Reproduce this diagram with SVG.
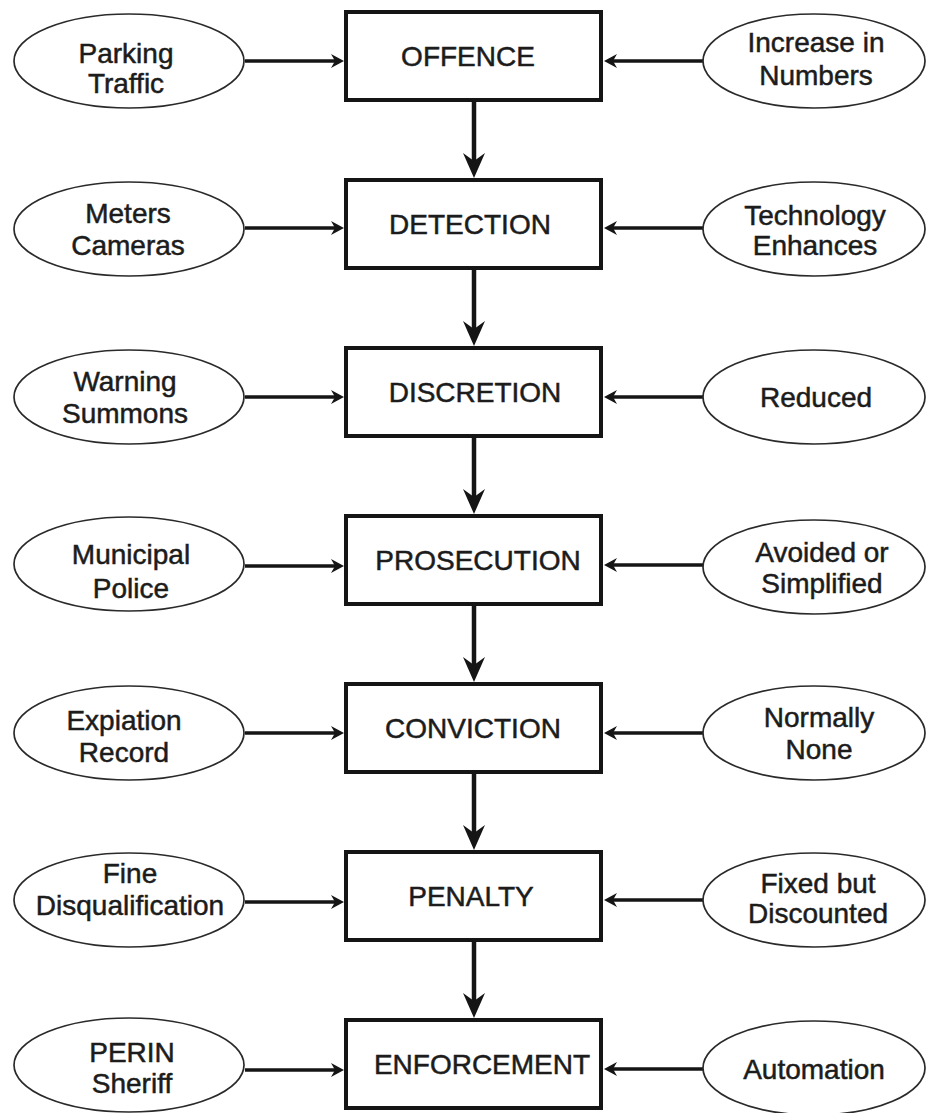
<svg xmlns="http://www.w3.org/2000/svg" width="926" height="1113" viewBox="0 0 926 1113">
<style>
.box{fill:#fff;stroke:#151515;stroke-width:4}
.ell{fill:#fff;stroke:#2a2a2a;stroke-width:1.7}
text{font-family:"Liberation Sans",Arial,sans-serif;font-size:28px;fill:#1c1c1c;stroke:#1c1c1c;stroke-width:0.5;text-anchor:middle}
.v{stroke:#151515;stroke-width:4.5;fill:none}
.h{stroke:#151515;stroke-width:3.5;fill:none}
</style>
<defs>
<marker id="av" markerUnits="userSpaceOnUse" markerWidth="26" markerHeight="26" viewBox="0 0 26 26" refX="8" refY="13" orient="auto">
<path d="M0,2 L25,13 L0,24 L8,13 Z" fill="#151515"/>
</marker>
<marker id="ah" markerUnits="userSpaceOnUse" markerWidth="14" markerHeight="16" viewBox="0 0 14 16" refX="4" refY="8" orient="auto">
<path d="M0,1 L13,8 L0,15 L4,8 Z" fill="#151515"/>
</marker>
</defs>
<rect width="926" height="1113" fill="#fff"/>
<g id="connectors">
<path class="v" d="M474,101 V161" marker-end="url(#av)"/>
<path class="v" d="M474,269 V329" marker-end="url(#av)"/>
<path class="v" d="M474,437 V497" marker-end="url(#av)"/>
<path class="v" d="M474,605 V665" marker-end="url(#av)"/>
<path class="v" d="M474,773 V833" marker-end="url(#av)"/>
<path class="v" d="M474,941 V1001" marker-end="url(#av)"/>
<path class="h" d="M245,61 H335" marker-end="url(#ah)"/>
<path class="h" d="M245,228 H335" marker-end="url(#ah)"/>
<path class="h" d="M245,397 H335" marker-end="url(#ah)"/>
<path class="h" d="M245,566 H335" marker-end="url(#ah)"/>
<path class="h" d="M245,733 H335" marker-end="url(#ah)"/>
<path class="h" d="M245,902 H335" marker-end="url(#ah)"/>
<path class="h" d="M245,1070 H335" marker-end="url(#ah)"/>
<path class="h" d="M703,61 H613" marker-end="url(#ah)"/>
<path class="h" d="M703,228 H613" marker-end="url(#ah)"/>
<path class="h" d="M703,397 H613" marker-end="url(#ah)"/>
<path class="h" d="M703,565 H613" marker-end="url(#ah)"/>
<path class="h" d="M703,733 H613" marker-end="url(#ah)"/>
<path class="h" d="M703,900 H613" marker-end="url(#ah)"/>
<path class="h" d="M703,1069 H613" marker-end="url(#ah)"/>
</g>
<g id="offence"><rect class="box" x="346" y="12" width="255" height="88"/><text x="468" y="66">OFFENCE</text></g>
<g id="detection"><rect class="box" x="346" y="180" width="255" height="88"/><text x="470" y="234">DETECTION</text></g>
<g id="discretion"><rect class="box" x="346" y="348" width="255" height="88"/><text x="475" y="402">DISCRETION</text></g>
<g id="prosecution"><rect class="box" x="346" y="516" width="255" height="88"/><text x="478" y="570">PROSECUTION</text></g>
<g id="conviction"><rect class="box" x="346" y="684" width="255" height="88"/><text x="473" y="738">CONVICTION</text></g>
<g id="penalty"><rect class="box" x="346" y="852" width="255" height="88"/><text x="471" y="906">PENALTY</text></g>
<g id="enforcement"><rect class="box" x="346" y="1020" width="255" height="88"/><text x="482" y="1074">ENFORCEMENT</text></g>

<g id="parking-traffic"><ellipse class="ell" cx="129" cy="61" rx="115" ry="47"/><text x="126" y="63">Parking</text><text x="126" y="93">Traffic</text></g>
<g id="meters-cameras"><ellipse class="ell" cx="129" cy="229" rx="115" ry="47"/><text x="128" y="223">Meters</text><text x="128" y="255">Cameras</text></g>
<g id="warning-summons"><ellipse class="ell" cx="129" cy="397" rx="115" ry="47"/><text x="125" y="391">Warning</text><text x="125" y="423">Summons</text></g>
<g id="municipal-police"><ellipse class="ell" cx="129" cy="564" rx="115" ry="47"/><text x="131" y="564">Municipal</text><text x="131" y="598">Police</text></g>
<g id="expiation-record"><ellipse class="ell" cx="129" cy="733" rx="115" ry="47"/><text x="124" y="730">Expiation</text><text x="124" y="762">Record</text></g>
<g id="fine-disqualification"><ellipse class="ell" cx="129" cy="900" rx="115" ry="47"/><text x="130" y="883">Fine</text><text x="130" y="915">Disqualification</text></g>
<g id="perin-sheriff"><ellipse class="ell" cx="129" cy="1065" rx="115" ry="47"/><text x="132" y="1062">PERIN</text><text x="132" y="1093">Sheriff</text></g>

<g id="increase-numbers"><ellipse class="ell" cx="814" cy="61" rx="111" ry="47"/><text x="816" y="52">Increase in</text><text x="816" y="85">Numbers</text></g>
<g id="technology-enhances"><ellipse class="ell" cx="814" cy="229" rx="111" ry="47"/><text x="815" y="225">Technology</text><text x="815" y="255">Enhances</text></g>
<g id="reduced"><ellipse class="ell" cx="814" cy="397" rx="111" ry="47"/><text x="816" y="407">Reduced</text></g>
<g id="avoided-simplified"><ellipse class="ell" cx="814" cy="567" rx="111" ry="47"/><text x="822" y="562">Avoided or</text><text x="822" y="593">Simplified</text></g>
<g id="normally-none"><ellipse class="ell" cx="814" cy="733" rx="111" ry="47"/><text x="819" y="727">Normally</text><text x="819" y="759">None</text></g>
<g id="fixed-discounted"><ellipse class="ell" cx="814" cy="900" rx="111" ry="47"/><text x="818" y="893">Fixed but</text><text x="818" y="923">Discounted</text></g>
<g id="automation"><ellipse class="ell" cx="814" cy="1068" rx="111" ry="47"/><text x="814" y="1079">Automation</text></g>
</svg>
